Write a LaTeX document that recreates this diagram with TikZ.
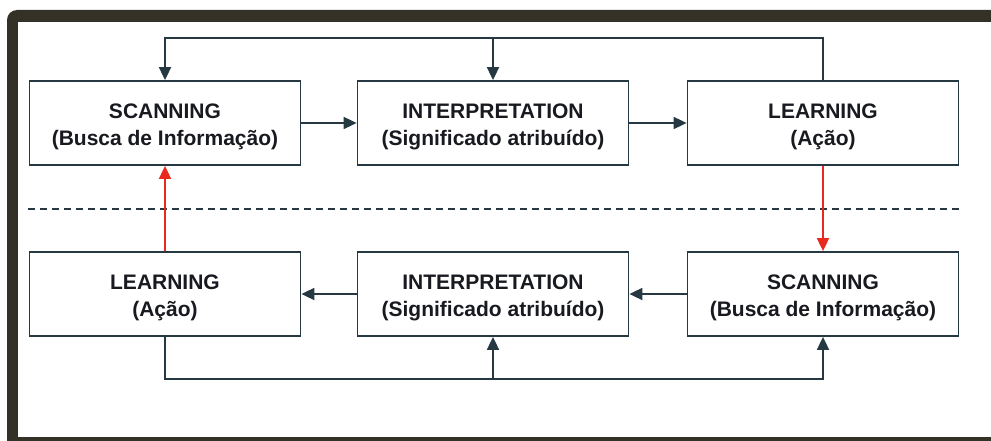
\documentclass[tikz,border=0pt]{standalone}
\usepackage{fontspec}
\setmainfont{Liberation Sans}
\usetikzlibrary{arrows.meta}
\definecolor{framedark}{RGB}{52,50,38}
\definecolor{linecol}{RGB}{38,56,66}
\definecolor{flowred}{RGB}{232,42,30}
\definecolor{textcol}{RGB}{24,26,32}
\begin{document}
\begin{tikzpicture}[x=1pt,y=-1pt,
  stagebox/.style={draw=linecol, line width=1.8pt, fill=white,
    minimum width=271pt, minimum height=84pt, inner sep=0pt},
  stagetext/.style={align=center, text=textcol, inner sep=0pt, yshift=-4pt,
    font=\fontsize{21}{27}\selectfont\bfseries},
  conn/.style={draw=linecol, line width=1.8pt},
  arr/.style={conn, -{Triangle[length=13pt,width=12pt]}},
  redarr/.style={draw=flowred, line width=1.8pt, -{Triangle[length=13pt,width=12pt]}}]
\useasboundingbox (0,0) rectangle (991,441);

% outer frame, rounded only at the top left
\fill[framedark] (7,441) -- (7,20) arc[start angle=180, end angle=90, radius=10pt]
  -- (991,10) -- (991,441) -- cycle;
\fill[white] (18,22) rectangle (991,437);

% upper cycle
\node[stagebox, label={[stagetext]center:SCANNING\\(Busca de Informação)}] (s1) at (165,123) {};
\node[stagebox, label={[stagetext]center:INTERPRETATION\\(Significado atribuído)}] (i1) at (493,123) {};
\node[stagebox, label={[stagetext]center:LEARNING\\(Ação)}] (l1) at (823,123) {};

% lower cycle
\node[stagebox, label={[stagetext]center:LEARNING\\(Ação)}] (l2) at (165,294) {};
\node[stagebox, label={[stagetext]center:INTERPRETATION\\(Significado atribuído)}] (i2) at (493,294) {};
\node[stagebox, label={[stagetext]center:SCANNING\\(Busca de Informação)}] (s2) at (823,294) {};

% separator
\draw[linecol, line width=1.5pt, dash pattern=on 7pt off 5pt] (28,209) -- (961,209);

% forward flow
\draw[arr] (s1.east) -- (i1.west);
\draw[arr] (i1.east) -- (l1.west);
\draw[arr] (s2.west) -- (i2.east);
\draw[arr] (i2.west) -- (l2.east);

% upper feedback
\coordinate (tl) at (165,38);
\coordinate (tr) at (823,38);
\draw[arr] (l1.north) -- (tr) -- (tl) -- (s1.north);
\draw[arr] (i1.north |- tl) -- (i1.north);

% lower feedback
\coordinate (bl) at (165,379);
\coordinate (br) at (823,379);
\draw[arr] (l2.south) -- (bl) -- (br) -- (s2.south);
\draw[arr] (i2.south |- bl) -- (i2.south);

% transitions between cycles
\draw[redarr] (l2.north) -- (s1.south);
\draw[redarr] (l1.south) -- (s2.north);
\end{tikzpicture}
\end{document}
